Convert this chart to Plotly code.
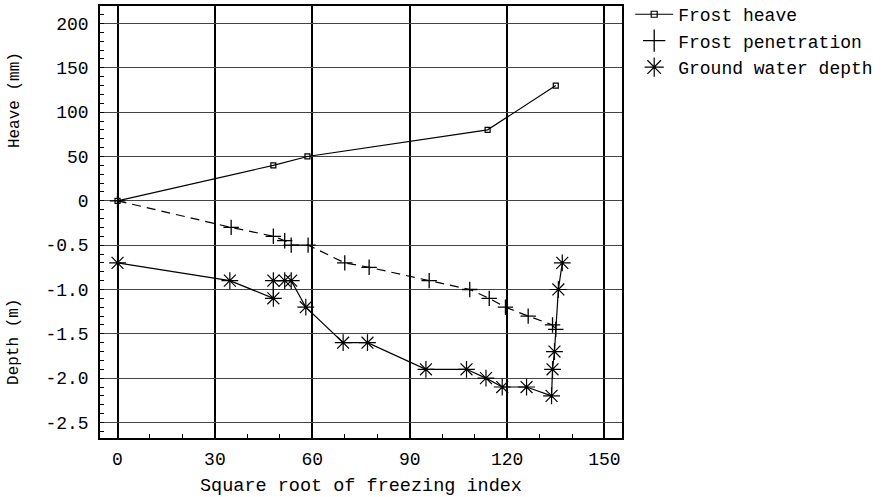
import plotly.graph_objects as go

# ---- data ----
fi_heave = [0, 48, 58.5, 114, 135]
heave_mm = [0, 40, 50, 80, 130]

fi_pen = [0, 35, 48, 51.5, 53.5, 58.7, 70, 77.5, 96, 108.5, 114.5, 119.5, 126.5, 134, 135]
pen_m = [0, -0.3, -0.4, -0.45, -0.5, -0.5, -0.7, -0.75, -0.9, -1.0, -1.1, -1.2, -1.3, -1.4, -1.45]

fi_gw = [0, 34.6, 48, 48, 51.5, 53.5, 58, 69.5, 77, 95, 107.5, 113.5, 118.5, 126, 133.7, 134, 134.6, 135.8, 137]
gw_m = [-0.7, -0.9, -1.1, -0.9, -0.9, -0.9, -1.2, -1.6, -1.6, -1.9, -1.9, -2.0, -2.1, -2.1, -2.2, -1.9, -1.7, -1.0, -0.7]

x_ticks = [0, 30, 60, 90, 120, 150]
y_tickvals = [2.0, 1.5, 1.0, 0.5, 0.0, -0.5, -1.0, -1.5, -2.0, -2.5]
y_ticktext = ["200", "150", "100", "50", "0", "-0.5", "-1.0", "-1.5", "-2.0", "-2.5"]

MM_PER_UNIT = 100.0  # heave (mm) shares the axis: 50 mm = one 0.5 grid step

FONT = "Liberation Mono, Courier New, monospace"

fig = go.Figure()

fig.add_trace(go.Scatter(
    x=fi_heave, y=[h / MM_PER_UNIT for h in heave_mm], mode="lines+markers",
    line=dict(color="black", width=1.2),
    marker=dict(symbol="square-open", size=5, color="black", line=dict(width=1.2)),
    showlegend=False))

fig.add_trace(go.Scatter(
    x=fi_pen, y=pen_m, mode="lines+markers",
    line=dict(color="black", width=1.2, dash="9px,6px"),
    marker=dict(symbol="cross-thin-open", size=11, color="black", line=dict(width=1.3, color="black")),
    showlegend=False))

fig.add_trace(go.Scatter(
    x=fi_gw, y=gw_m, mode="lines+markers",
    line=dict(color="black", width=1.2),
    marker=dict(symbol="asterisk-open", size=14, color="black", line=dict(width=1.2, color="black")),
    showlegend=False))

# legend entries
fig.add_trace(go.Scatter(
    x=[None], y=[None], mode="lines+markers", name="Frost heave",
    line=dict(color="black", width=1.2),
    marker=dict(symbol="square-open", size=6, color="black", line=dict(width=1.2))))
fig.add_trace(go.Scatter(
    x=[None], y=[None], mode="markers", name="Frost penetration",
    marker=dict(symbol="cross-thin-open", size=18, color="black", line=dict(width=1.3, color="black"))))
fig.add_trace(go.Scatter(
    x=[None], y=[None], mode="markers", name="Ground water depth",
    marker=dict(symbol="asterisk-open", size=18, color="black", line=dict(width=1.2, color="black"))))

fig.update_layout(
    width=885, height=497,
    margin=dict(l=100, r=263, t=6, b=59, autoexpand=False),
    paper_bgcolor="white", plot_bgcolor="white",
    font=dict(family=FONT, size=18, color="black"),
    legend=dict(x=1.0157, y=1.023, xanchor="left", yanchor="top",
                font=dict(family=FONT, size=18, color="black"),
                tracegroupgap=0, itemsizing="trace", itemwidth=38,
                bgcolor="rgba(0,0,0,0)"),
    xaxis=dict(
        range=[-5.4, 155.4], tickvals=x_ticks, ticks="",
        showgrid=True, gridcolor="black", gridwidth=1.6,
        zeroline=False, showline=True, linecolor="black", linewidth=1.5, mirror=True,
        minor=dict(dtick=10, tick0=0, ticks="inside", ticklen=4, tickcolor="black", tickwidth=1, showgrid=False),
        title=dict(text="Square root of freezing index", font=dict(family=FONT, size=18.5), standoff=14),
        tickfont=dict(family=FONT, size=18),
        ticklabelstandoff=4,
        automargin=False,
    ),
    yaxis=dict(
        range=[-2.675, 2.197], tickvals=y_tickvals, ticktext=y_ticktext, ticks="",
        showgrid=True, gridcolor="#444", gridwidth=1.3,
        zeroline=False, showline=True, linecolor="black", linewidth=1.5, mirror=True,
        minor=dict(dtick=0.1, tick0=0, ticks="inside", ticklen=4, tickcolor="black", tickwidth=1, showgrid=False),
        tickfont=dict(family=FONT, size=18),
        ticklabelstandoff=6,
        automargin=False,
    ),
)

fig.add_annotation(text="Heave (mm)", xref="paper", yref="paper",
                   x=-0.163, y=0.782, xanchor="center", yanchor="middle",
                   textangle=-90, showarrow=False,
                   font=dict(family=FONT, size=16, color="black"))
fig.add_annotation(text="Depth (m)", xref="paper", yref="paper",
                   x=-0.165, y=0.222, xanchor="center", yanchor="middle",
                   textangle=-90, showarrow=False,
                   font=dict(family=FONT, size=16, color="black"))

fig.write_html("out.html")
